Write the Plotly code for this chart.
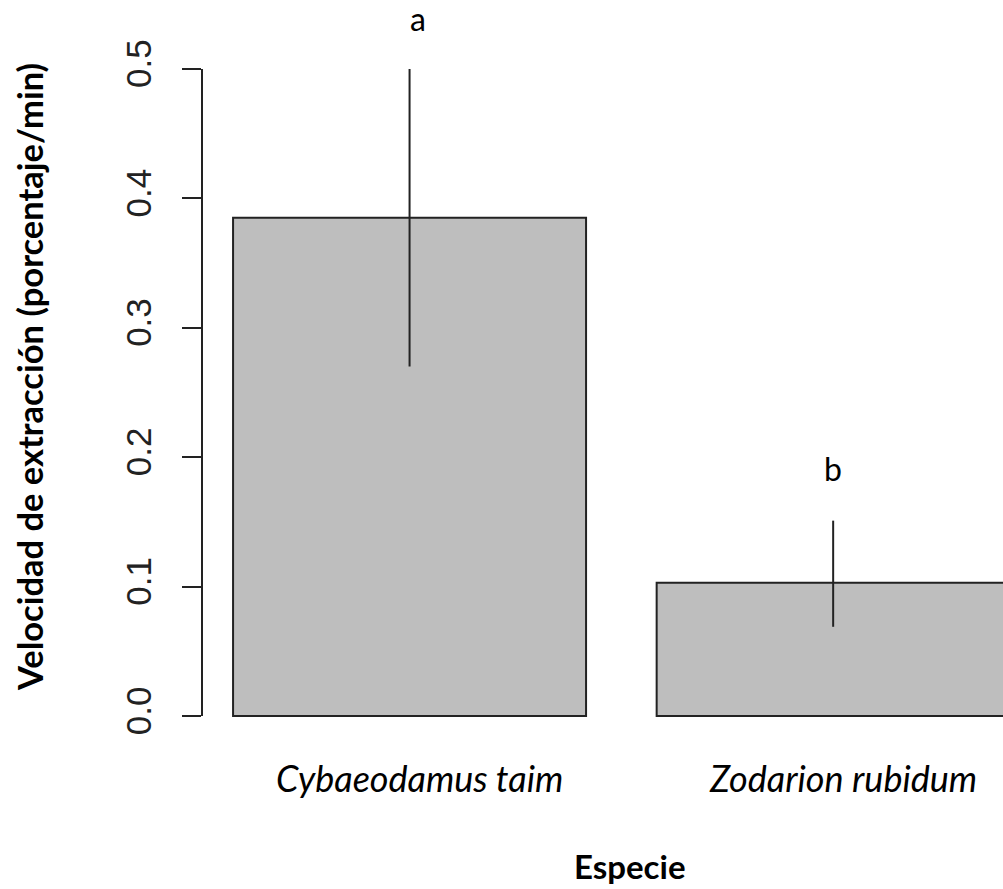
import plotly.graph_objects as go

# ---- data ----
species = ["Cybaeodamus taim", "Zodarion rubidum"]
rates = [0.385, 0.103]
upper = [0.500, 0.151]
lower = [0.270, 0.069]
letters = ["a", "b"]
y_ticks = [0.0, 0.1, 0.2, 0.3, 0.4, 0.5]
y_ticktext = ["0.0", "0.1", "0.2", "0.3", "0.4", "0.5"]

# R barplot geometry: width 1, space 0.2
bar_x = [0.2 + 0.5 + i * 1.2 for i in range(len(species))]
err_plus = [u - r for u, r in zip(upper, rates)]
err_minus = [r - l for r, l in zip(rates, lower)]

W, H = 1003, 889
L, R_, T, B = 202, 0, 43, 147
pw, ph = W - L - R_, H - T - B
YMIN, YMAX = -0.02, 0.52

def px_x(p):
    return (p - L) / pw

def px_y(p):
    return (H - B - p) / ph

def data_to_paper_y(v):
    return (v - YMIN) / (YMAX - YMIN)

AX = "#222222"

fig = go.Figure()
fig.add_trace(go.Bar(
    x=bar_x, y=rates, width=1.0,
    marker=dict(color="#BEBEBE", line=dict(color=AX, width=2)),
    error_y=dict(type="data", symmetric=False, array=err_plus,
                 arrayminus=err_minus, width=0, thickness=2, color=AX),
    showlegend=False, hoverinfo="skip",
))

# significance letters
for i, (xx, up, lt) in enumerate(zip(bar_x, upper, letters)):
    fig.add_annotation(x=xx, y=data_to_paper_y(up + 0.04), xref="x", yref="paper",
                       text=lt, showarrow=False, xshift=8 if i == 0 else 0,
                       yshift=-1 if i == 0 else 0, borderpad=0,
                       font=dict(family="Lato", size=32, color="black"),
                       yanchor="middle", xanchor="center")

# category labels (below bars)
for xx, sp in zip(bar_x, species):
    fig.add_annotation(x=xx, y=px_y(778), xref="x", yref="paper",
                       text="<i>" + sp + "</i>", showarrow=False, xshift=10,
                       borderpad=0,
                       font=dict(family="Lato", size=36, color="black"),
                       yanchor="middle", xanchor="center")

# y axis line (R style, only over tick range)
fig.add_shape(type="line", xref="paper", yref="y", x0=0, x1=0,
              y0=y_ticks[0], y1=y_ticks[-1], line=dict(color=AX, width=2))

# axis titles
fig.add_annotation(x=px_x(29), y=px_y(377), xref="paper", yref="paper",
                   text="<b>Velocidad de extracción (porcentaje/min)</b>",
                   textangle=-90, showarrow=False, borderpad=0,
                   font=dict(family="Lato", size=34.5, color="black"),
                   xanchor="center", yanchor="middle")
fig.add_annotation(x=px_x(630), y=px_y(866), xref="paper", yref="paper",
                   text="<b>Especie</b>", showarrow=False, borderpad=0,
                   font=dict(family="Lato", size=33, color="black"),
                   xanchor="center", yanchor="middle")

fig.update_layout(
    width=W, height=H,
    margin=dict(l=L, r=R_, t=T, b=B, pad=0),
    plot_bgcolor="white", paper_bgcolor="white",
    xaxis=dict(range=[0.112, 0.112 + pw / 353.0], showgrid=False,
               zeroline=False, showline=False, ticks="", showticklabels=False),
    yaxis=dict(range=[YMIN, YMAX], showgrid=False, zeroline=False,
               showline=False, ticks="outside", ticklen=19, tickwidth=2,
               tickcolor=AX, tickvals=y_ticks, ticktext=y_ticktext,
               tickangle=-90, ticklabelstandoff=17,
               tickfont=dict(family="Liberation Sans", size=35, color="#222222")),
)

fig.write_html("out.html")
